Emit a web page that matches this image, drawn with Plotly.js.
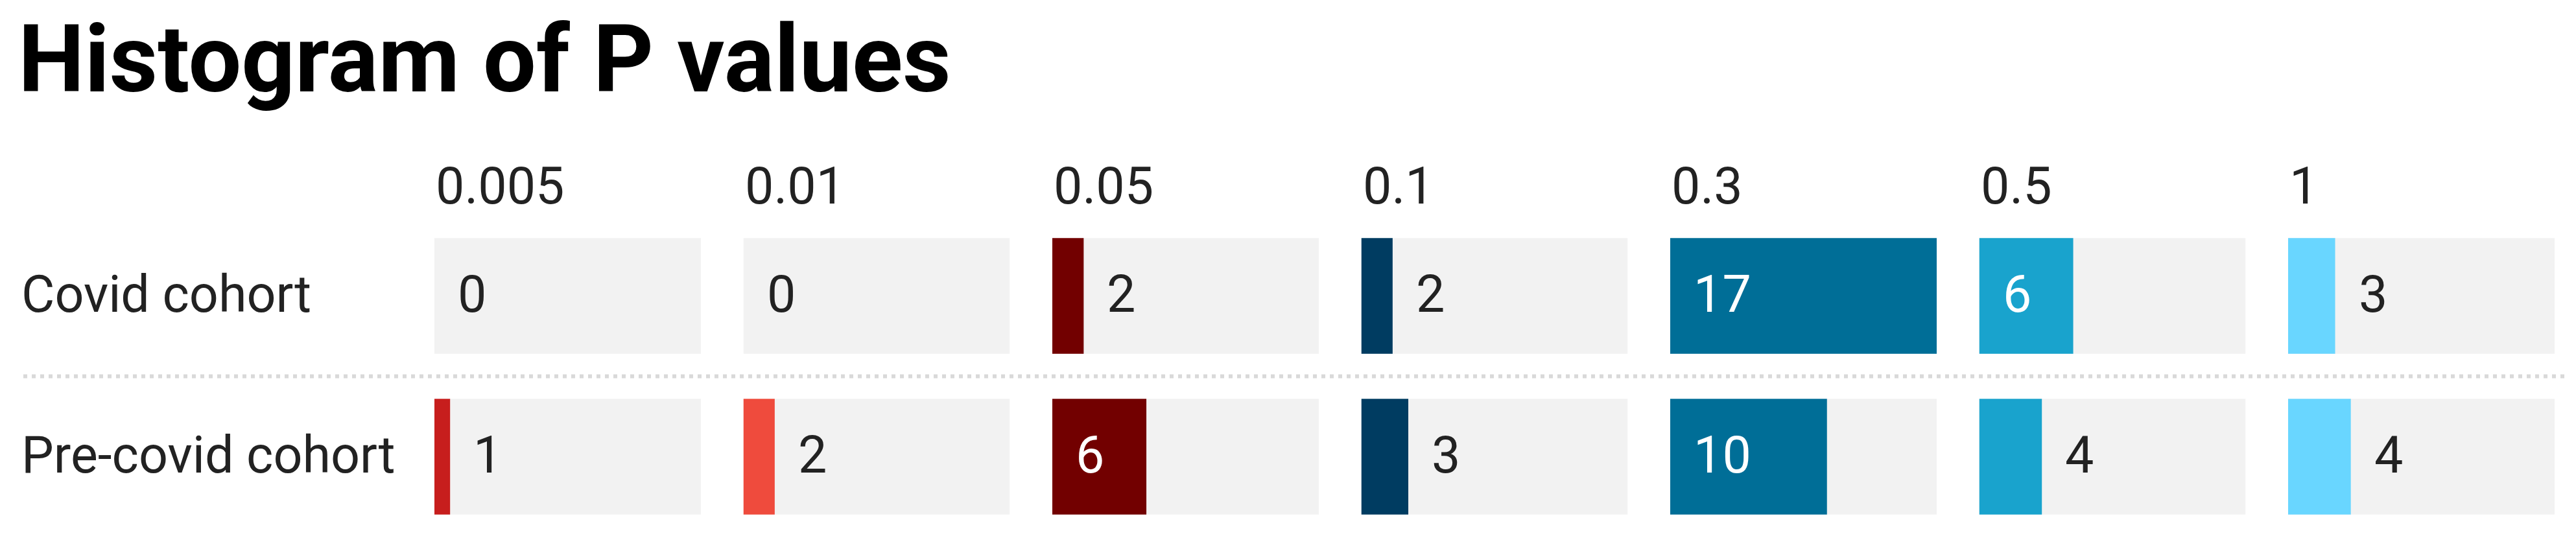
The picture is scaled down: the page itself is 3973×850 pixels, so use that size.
<!DOCTYPE html>
<html>
<head>
<meta charset="utf-8">
<script src="https://cdn.plot.ly/plotly-3.0.1.min.js"></script>
<style>
  html, body { margin: 0; padding: 0; background: #ffffff; }
  #chart { width: 3973px; height: 850px; }
</style>
</head>
<body>
<div id="chart"></div>
<script>
// ---- Data ----
const bins = ["0.005", "0.01", "0.05", "0.1", "0.3", "0.5", "1"];
const cohorts = ["Covid cohort", "Pre-covid cohort"];
const covidCounts = [0, 0, 2, 2, 17, 6, 3];
const precovidCounts = [1, 2, 6, 3, 10, 4, 4];
const binColors = ["#c71e1d", "#ef4b3d", "#720000", "#003c61", "#006e97", "#19a3cd", "#69d6ff"];

// ---- Layout constants ----
const W = 3973, H = 850;
const panelStart = 670, panelPitch = 476.5, panelWidth = 411;
const plotTop = 332.5, plotBottom = 828.5;
const insideMin = 5;          // labels drawn inside bars at or above this count
const fontFam = "Roboto, 'Open Sans', sans-serif";
const labelSize = 79;
const textDark = "#222222";

const maxVal = Math.max(...covidCounts, ...precovidCounts);
const seriesByCohort = [covidCounts, precovidCounts];

const traces = [];
const annotations = [];
const layout = {
  width: W, height: H,
  margin: { l: 0, r: 0, t: 0, b: 0, pad: 0 },
  paper_bgcolor: "#ffffff",
  plot_bgcolor: "rgba(0,0,0,0)",
  showlegend: false,
  barmode: "overlay",
  title: {
    text: "Histogram of P values",
    font: { family: fontFam, size: 145, weight: 700, color: "#000000" },
    xref: "container", yref: "container",
    x: 28 / W, xanchor: "left",
    y: 1 - 39 / H, yanchor: "top",
    pad: { t: 0, b: 0, l: 0, r: 0 }
  },
  yaxis: {
    type: "category",
    categoryorder: "array",
    categoryarray: cohorts,
    range: [1.5, -0.5],
    domain: [(H - plotBottom) / H, (H - plotTop) / H],
    showticklabels: false, showgrid: false, zeroline: false, showline: false,
    fixedrange: true
  },
  shapes: [{
    type: "line", xref: "paper", yref: "y",
    x0: 36 / W, x1: 3962 / W, y0: 0.5, y1: 0.5,
    line: { color: "#d9d9d9", width: 6, dash: "6px,7px" }
  }],
  annotations: annotations
};

bins.forEach((bin, i) => {
  const xa = "x" + (i + 1);
  const axKey = "xaxis" + (i === 0 ? "" : (i + 1));
  const x0 = panelStart + i * panelPitch;
  layout[axKey] = {
    domain: [x0 / W, (x0 + panelWidth) / W],
    range: [0, maxVal],
    anchor: "y",
    showticklabels: false, showgrid: false, zeroline: false, showline: false,
    fixedrange: true
  };

  // background track
  traces.push({
    type: "bar", orientation: "h",
    x: cohorts.map(() => maxVal), y: cohorts,
    xaxis: xa, yaxis: "y",
    width: 0.72,
    marker: { color: "#f2f2f2", line: { width: 0 } },
    hoverinfo: "skip"
  });
  // value bars
  traces.push({
    type: "bar", orientation: "h",
    x: seriesByCohort.map(s => s[i]), y: cohorts,
    xaxis: xa, yaxis: "y",
    width: 0.72,
    marker: { color: binColors[i], line: { width: 0 } },
    hoverinfo: "skip"
  });

  // column header
  annotations.push({
    xref: xa + " domain", yref: "paper",
    x: 0, y: 1 - 287 / H,
    xanchor: "left", yanchor: "middle",
    text: bin, showarrow: false,
    font: { family: fontFam, size: labelSize, color: textDark }
  });

  // value labels
  cohorts.forEach((c, r) => {
    const v = seriesByCohort[r][i];
    const inside = v >= insideMin;
    annotations.push({
      xref: xa, yref: "y",
      x: inside ? 0 : v, y: c,
      xanchor: "left", yanchor: "middle",
      xshift: 34, yshift: 3,
      text: String(v), showarrow: false,
      font: { family: fontFam, size: labelSize, color: inside ? "#ffffff" : textDark }
    });
  });
});

// row labels
cohorts.forEach(c => {
  annotations.push({
    xref: "paper", yref: "y",
    x: 31 / W, y: c,
    xanchor: "left", yanchor: "middle",
    yshift: 3,
    text: c, showarrow: false,
    font: { family: fontFam, size: labelSize, color: textDark }
  });
});

Plotly.newPlot("chart", traces, layout, { staticPlot: true, displayModeBar: false });
</script>
</body>
</html>
